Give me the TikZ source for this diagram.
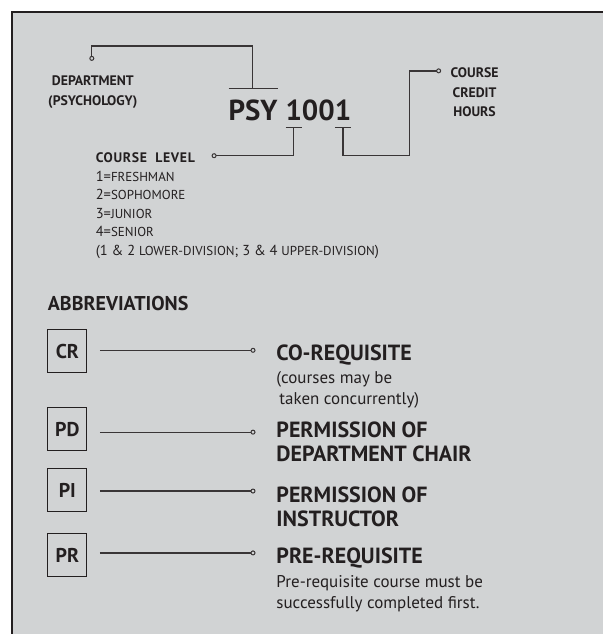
\documentclass[tikz,border=0pt]{standalone}
\usepackage{fontspec}
\setmainfont{PT Sans}
\usetikzlibrary{positioning,arrows.meta}
\definecolor{panel}{HTML}{D1D3D4}
\definecolor{ink}{HTML}{231F20}
\newcommand\smcap[1]{{\fontsize{13}{13}\selectfont #1}}

\begin{document}
\begin{tikzpicture}
[x=1pt,y=-1pt,
 every node/.style={inner sep=0pt,outer sep=0pt,text=ink},
 code/.style={font=\fontsize{29}{29}\selectfont\bfseries},
 lbl/.style={font=\fontsize{13.8}{19.5}\selectfont\bfseries,align=center},
 levels/.style={font=\fontsize{14.5}{18.5}\selectfont,align=left},
 abbr/.style={draw=ink,line width=1pt,minimum width=39pt,minimum height=43pt,font=\fontsize{20}{20}\selectfont\bfseries},
 heading/.style={font=\fontsize{22}{24}\selectfont\bfseries,align=left},
 note/.style={font=\fontsize{17}{21}\selectfont,align=left},
 wire/.style={draw=ink!90,line width=1.3pt},
 pinwire/.style={wire,-{Circle[open,length=5pt,line width=1pt]}}]
% panel
\fill[white] (0,0) rectangle (604,635);
\fill[panel] (12,12) rectangle (604,635);
\draw[ink,line width=2.5pt] (12,635) -- (12,12) -- (604,12);
% course code
\node[code,anchor=base west] (psy) at (229,121) {PSY};
\node[code,base right=8pt of psy] (lev) {1};
\node[code,base right=0pt of lev] (mid) {00};
\node[code,base right=0pt of mid] (hrs) {1};
\coordinate (topbar)   at (253,89);
\coordinate (lowbar)   at (0,128);
\coordinate (deptpin)  at (92,61);
\coordinate (deptbend) at (253,46);
\coordinate (levpin)   at (212,156);
\coordinate (hrsturn)  at (410,156);
\coordinate (hrspin)   at (442,71);
\draw[wire] (psy.west |- topbar) -- (psy.east |- topbar);
\draw[wire] (lev.west |- lowbar) -- (lev.east |- lowbar);
\draw[wire] (hrs.west |- lowbar) -- (hrs.east |- lowbar);
\draw[wire,{Circle[open,length=5pt,line width=1pt]}-] (deptpin) |- (deptbend) -- (topbar);
\draw[pinwire] (lev |- lowbar) |- (levpin);
\draw[pinwire] (hrs |- lowbar) |- (hrsturn) |- (hrspin);
% labels
\node[lbl,anchor=north] (dept) at (93,76) {DEPARTMENT\\(PSYCHOLOGY)};
\node[lbl,anchor=north] (credit) at (475.5,68) {COURSE\\CREDIT\\HOURS};
\node[lbl,anchor=base west] (level) at (96,163) {\addfontfeature{LetterSpace=5}COURSE\hspace{4pt} LEVEL};
\node[levels,anchor=north west] (levlist) at (96,171.5)
  {1=\smcap{FRESHMAN}\\2=\smcap{SOPHOMORE}\\3=\smcap{JUNIOR}\\4=\smcap{SENIOR}\\(1 \& 2 \smcap{LOWER-DIVISION}; 3 \& 4 \smcap{UPPER-DIVISION})};
% abbreviations
\node[font=\fontsize{20}{20}\selectfont\bfseries,anchor=base west] (abbrevs) at (48,311) {ABBREVIATIONS};
\node[abbr] (cr) at (67.5,352) {CR};
\node[abbr] (pd) at (67.5,430) {PD};
\node[abbr] (pi) at (67.5,491) {PI};
\node[abbr] (pr) at (67.5,556) {PR};
\coordinate (crpin) at (256,351);
\coordinate (pdpin) at (256,433);
\coordinate (pipin) at (256,492);
\coordinate (prpin) at (256,554);
\draw[pinwire,shorten <=13pt] (cr.east |- crpin) -- (crpin);
\draw[pinwire,shorten <=13pt] (pd.east |- pdpin) -- (pdpin);
\draw[pinwire,shorten <=13pt] (pi.east |- pipin) -- (pipin);
\draw[pinwire,shorten <=13pt] (pr.east |- prpin) -- (prpin);
\node[heading,anchor=north west] (crhead) at (277,345) {CO-REQUISITE};
\node[note,below=7pt of crhead.south west,anchor=north west] (crnote) {(courses may be\\\hspace{3pt}taken concurrently)};
\node[heading,anchor=north west] (pdhead) at (277,423) {PERMISSION OF\\DEPARTMENT CHAIR};
\node[heading,anchor=north west] (pihead) at (277,488) {PERMISSION OF\\INSTRUCTOR};
\node[heading,anchor=north west] (prhead) at (277,549) {PRE-REQUISITE};
\node[note,below=7pt of prhead.south west,anchor=north west] (prnote) {Pre-requisite course must be\\successfully completed first.};
\end{tikzpicture}
\end{document}
